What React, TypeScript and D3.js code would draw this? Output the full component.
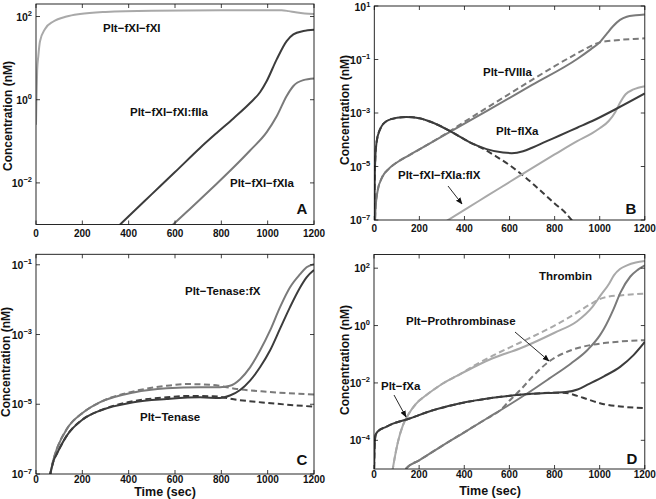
import React from "react";
import * as d3 from "d3";

// ---------- shared ----------
const TIME_TICKS = [0, 200, 400, 600, 800, 1000, 1200];
const TIME_DOMAIN = [0, 1200];

// ---------- Panel A (log10 of concentration, nM) ----------
const A_FXI_T = [0, 2, 5, 10, 17, 39, 75, 132, 190, 300, 500, 800, 1060, 1090, 1120, 1160, 1200];
const A_FXI_LOG = [-0.6, 0.0, 0.7, 1.05, 1.4, 1.7, 1.88, 2.0, 2.06, 2.11, 2.14, 2.15, 2.15, 2.13, 2.1, 2.07, 2.06];
const A_FIIA_T = [350, 400, 500, 600, 708, 780, 852, 924, 967, 996, 1039, 1082, 1111, 1154, 1200];
const A_FIIA_LOG = [-3.07, -2.8, -2.27, -1.74, -1.16, -0.8, -0.45, -0.08, 0.18, 0.45, 0.97, 1.41, 1.57, 1.65, 1.68];
const A_FXIA_T = [580, 650, 708, 780, 852, 924, 996, 1039, 1082, 1111, 1154, 1200];
const A_FXIA_LOG = [-3.06, -2.7, -2.4, -2.02, -1.63, -1.22, -0.78, -0.4, 0.09, 0.33, 0.47, 0.51];

// ---------- Panel B ----------
const B_FVIIIA_T = [2, 6, 15, 35, 65, 100, 150, 200, 320, 500, 700, 900, 960, 1000, 1030, 1060, 1090, 1120, 1160, 1200];
const B_FVIIIA_LOG = [-7.3, -6.5, -5.9, -5.4, -5.08, -4.85, -4.6, -4.36, -3.78, -2.92, -1.95, -0.98, -0.62, -0.36, -0.05, 0.25, 0.48, 0.6, 0.65, 0.68];
const B_FVIIIA_D_T = [2, 6, 15, 35, 65, 100, 150, 200, 320, 400, 500, 600, 700, 800, 900, 960, 1000, 1050, 1100, 1150, 1200];
const B_FVIIIA_D_LOG = [-7.3, -6.5, -5.9, -5.4, -5.08, -4.85, -4.6, -4.36, -3.76, -3.33, -2.8, -2.28, -1.76, -1.25, -0.77, -0.5, -0.36, -0.3, -0.26, -0.23, -0.21];
const B_FIXA_T = [0, 2, 5, 10, 25, 55, 100, 143, 200, 276, 350, 424, 498, 571, 610, 660, 700, 760, 820, 900, 967, 1070, 1200];
const B_FIXA_LOG = [-7.3, -5.5, -4.6, -4.1, -3.62, -3.3, -3.18, -3.15, -3.2, -3.42, -3.74, -4.1, -4.35, -4.48, -4.5, -4.43, -4.3, -4.07, -3.85, -3.55, -3.3, -2.86, -2.27];
const B_FIXA_D_T = [0, 2, 5, 10, 25, 55, 100, 143, 200, 276, 350, 424, 482, 540, 600, 650, 700, 750, 800, 850, 880];
const B_FIXA_D_LOG = [-7.3, -5.5, -4.6, -4.1, -3.62, -3.3, -3.18, -3.15, -3.2, -3.42, -3.74, -4.1, -4.33, -4.62, -4.95, -5.27, -5.62, -6.0, -6.38, -6.75, -7.05];
const B_FIX_T = [318, 400, 500, 600, 700, 800, 900, 967, 1000, 1040, 1070, 1090, 1115, 1150, 1200];
const B_FIX_LOG = [-7.05, -6.62, -6.1, -5.58, -5.06, -4.55, -4.05, -3.75, -3.57, -3.3, -2.95, -2.62, -2.3, -2.12, -2.0];

// ---------- Panel C ----------
const C_T = [60, 76, 90, 133, 205, 277, 421, 564, 708, 794, 837, 881, 924, 967, 1010, 1053, 1096, 1140, 1168, 1200];
const C_TFX_LOG = [-7.05, -6.57, -6.28, -5.71, -5.23, -4.94, -4.66, -4.54, -4.51, -4.51, -4.47, -4.28, -3.94, -3.46, -2.89, -2.22, -1.65, -1.27, -1.07, -0.98];
const C_TEN_LOG = [-7.05, -6.62, -6.42, -5.9, -5.42, -5.18, -4.94, -4.85, -4.8, -4.82, -4.75, -4.59, -4.32, -3.94, -3.46, -2.84, -2.22, -1.65, -1.36, -1.15];
const C_D_T = [60, 76, 90, 133, 205, 277, 421, 564, 650, 765, 866, 996, 1200];
const C_TFX_D_LOG = [-7.05, -6.57, -6.28, -5.71, -5.23, -4.94, -4.63, -4.47, -4.42, -4.45, -4.56, -4.64, -4.72];
const C_TEN_D_LOG = [-7.05, -6.62, -6.42, -5.9, -5.42, -5.18, -4.91, -4.8, -4.76, -4.77, -4.87, -4.96, -5.07];

// ---------- Panel D ----------
const D_THR_T = [81, 91, 106, 128, 150, 187, 231, 305, 378, 452, 526, 646, 800, 900, 968, 1004, 1041, 1063, 1090, 1121, 1160, 1200];
const D_THR_LOG = [-5.1, -4.64, -4.06, -3.48, -3.13, -2.72, -2.43, -2.02, -1.71, -1.41, -1.14, -0.8, -0.25, 0.15, 0.65, 1.05, 1.45, 1.75, 1.97, 2.1, 2.2, 2.25];
const D_THR_D_T = [81, 91, 106, 128, 150, 187, 231, 305, 378, 452, 526, 646, 800, 900, 960, 1000, 1034, 1100, 1200];
const D_THR_D_LOG = [-5.1, -4.64, -4.06, -3.48, -3.13, -2.72, -2.43, -2.02, -1.71, -1.36, -1.05, -0.6, 0.0, 0.45, 0.75, 0.92, 1.0, 1.06, 1.11];
const D_PRO_T = [130, 143, 200, 300, 400, 500, 600, 680, 776, 873, 946, 1000, 1019, 1063, 1092, 1136, 1170, 1200];
const D_PRO_LOG = [-5.3, -4.98, -4.7, -4.2, -3.72, -3.24, -2.76, -2.36, -1.85, -1.32, -0.85, -0.35, -0.11, 0.6, 1.15, 1.71, 1.95, 2.1];
const D_PRO_D_T = [130, 143, 200, 300, 400, 500, 560, 600, 654, 700, 776, 873, 953, 1019, 1100, 1200];
const D_PRO_D_LOG = [-5.3, -4.98, -4.7, -4.2, -3.72, -3.24, -2.95, -2.62, -2.2, -1.8, -1.25, -0.86, -0.69, -0.61, -0.55, -0.51];
const D_FXA_T = [0, 3, 7, 18, 54, 84, 158, 231, 378, 526, 646, 700, 800, 850, 902, 946, 1019, 1092, 1150, 1200];
const D_FXA_LOG = [-5.3, -4.17, -3.82, -3.68, -3.53, -3.42, -3.24, -3.03, -2.72, -2.52, -2.41, -2.38, -2.34, -2.32, -2.23, -2.06, -1.77, -1.43, -1.03, -0.57];
const D_FXA_D_T = [0, 3, 7, 18, 54, 84, 158, 231, 378, 526, 646, 700, 800, 850, 900, 946, 1019, 1092, 1150, 1200];
const D_FXA_D_LOG = [-5.3, -4.17, -3.82, -3.68, -3.53, -3.42, -3.24, -3.03, -2.72, -2.52, -2.41, -2.38, -2.34, -2.35, -2.45, -2.57, -2.74, -2.82, -2.86, -2.88];

// ---------- styling ----------
const LIGHT = "#a9a9a9";
const MED = "#7a7a7a";
const DARK = "#3c3c3c";
const FONT = "'Liberation Sans', Arial, Helvetica, sans-serif";

type Series = { t: number[]; v: number[]; color: string; dashed?: boolean };
type Label = { text: string; x: number; y: number };
type Arrow = { x1: number; y1: number; x2: number; y2: number };
type PanelDef = {
  id: string;
  x0: number; x1: number; y0: number; y1: number;
  ymin: number; ymax: number;
  yExps: number[];
  series: Series[];
  labels: Label[];
  arrows: Arrow[];
  letter: { x: number; y: number };
  ylab: { x: number; y: number };
  xTickY: number;
  xlab?: { x: number; y: number };
};

const S = (t: number[], v: number[], color: string, dashed = false): Series => ({ t, v, color, dashed });

const PANELS: PanelDef[] = [
  {
    id: "A", x0: 36, x1: 314, y0: 4, y1: 224.5, ymin: 1e-3, ymax: 200, yExps: [2, 0, -2],
    series: [
      S(A_FXI_T, A_FXI_LOG, LIGHT),
      S(A_FIIA_T, A_FIIA_LOG, DARK),
      S(A_FXIA_T, A_FXIA_LOG, MED),
    ],
    labels: [
      { text: "Plt\u2212fXI\u2212fXI", x: 103, y: 32 },
      { text: "Plt\u2212fXI\u2212fXI:fIIa", x: 130, y: 116 },
      { text: "Plt\u2212fXI\u2212fXIa", x: 230, y: 187 },
    ],
    arrows: [],
    letter: { x: 296.5, y: 214 },
    ylab: { x: 12, y: 116 },
    xTickY: 237,
  },
  {
    id: "B", x0: 374.3, x1: 644.8, y0: 6, y1: 220, ymin: 1e-7, ymax: 10, yExps: [1, -1, -3, -5, -7],
    series: [
      S(B_FVIIIA_D_T, B_FVIIIA_D_LOG, MED, true),
      S(B_FIXA_D_T, B_FIXA_D_LOG, DARK, true),
      S(B_FVIIIA_T, B_FVIIIA_LOG, MED),
      S(B_FIX_T, B_FIX_LOG, LIGHT),
      S(B_FIXA_T, B_FIXA_LOG, DARK),
    ],
    labels: [
      { text: "Plt\u2212fVIIIa", x: 483, y: 76 },
      { text: "Plt\u2212fIXa", x: 496, y: 135 },
      { text: "Plt\u2212fXI\u2212fXIa:fIX", x: 398, y: 179 },
    ],
    arrows: [{ x1: 448, y1: 186, x2: 462, y2: 204 }],
    letter: { x: 625.5, y: 214 },
    ylab: { x: 349, y: 110 },
    xTickY: 231.5,
  },
  {
    id: "C", x0: 36, x1: 314, y0: 254.3, y1: 474, ymin: 1e-7, ymax: 0.2, yExps: [-1, -3, -5, -7],
    series: [
      S(C_D_T, C_TFX_D_LOG, MED, true),
      S(C_D_T, C_TEN_D_LOG, DARK, true),
      S(C_T, C_TFX_LOG, MED),
      S(C_T, C_TEN_LOG, DARK),
    ],
    labels: [
      { text: "Plt\u2212Tenase:fX", x: 185, y: 295 },
      { text: "Plt\u2212Tenase", x: 140, y: 421 },
    ],
    arrows: [],
    letter: { x: 296.5, y: 465 },
    ylab: { x: 10, y: 362 },
    xTickY: 483,
    xlab: { x: 165, y: 495.5 },
  },
  {
    id: "D", x0: 374, x1: 644.8, y0: 254.5, y1: 469, ymin: 1e-5, ymax: 300, yExps: [2, 0, -2, -4],
    series: [
      S(D_THR_D_T, D_THR_D_LOG, LIGHT, true),
      S(D_PRO_D_T, D_PRO_D_LOG, MED, true),
      S(D_FXA_D_T, D_FXA_D_LOG, DARK, true),
      S(D_THR_T, D_THR_LOG, LIGHT),
      S(D_PRO_T, D_PRO_LOG, MED),
      S(D_FXA_T, D_FXA_LOG, DARK),
    ],
    labels: [
      { text: "Thrombin", x: 539, y: 280 },
      { text: "Plt\u2212Prothrombinase", x: 406, y: 325 },
      { text: "Plt\u2212fXa", x: 381, y: 390 },
    ],
    arrows: [
      { x1: 515, y1: 332, x2: 549, y2: 361 },
      { x1: 394, y1: 395, x2: 406, y2: 417 },
    ],
    letter: { x: 626.5, y: 464 },
    ylab: { x: 349, y: 360 },
    xTickY: 478,
    xlab: { x: 490, y: 495 },
  },
];

const TICK = 4;

function Panel({ p }: { p: PanelDef }) {
  const x = d3.scaleLinear().domain(TIME_DOMAIN).range([p.x0, p.x1]);
  const y = d3.scaleLog().domain([p.ymin, p.ymax]).range([p.y1, p.y0]);
  const line = d3
    .line<[number, number]>()
    .x((d) => x(d[0]))
    .y((d) => y(d[1]))
    .curve(d3.curveMonotoneX);
  const clipId = `clip-${p.id}`;
  return (
    <g>
      <defs>
        <clipPath id={clipId}>
          <rect x={p.x0} y={p.y0} width={p.x1 - p.x0} height={p.y1 - p.y0} />
        </clipPath>
      </defs>
      <g clipPath={`url(#${clipId})`}>
        {p.series.map((s, i) => {
          const pts: [number, number][] = s.t.map((t, k) => [t, Math.pow(10, s.v[k])]);
          return (
            <path
              key={i}
              d={line(pts) || ""}
              fill="none"
              stroke={s.color}
              strokeWidth={2}
              strokeDasharray={s.dashed ? "6,3.5" : undefined}
              strokeLinejoin="round"
            />
          );
        })}
      </g>
      {/* frame */}
      <rect x={p.x0} y={p.y0} width={p.x1 - p.x0} height={p.y1 - p.y0} fill="none" stroke="#111" strokeWidth={0.9} />
      {/* x ticks */}
      {TIME_TICKS.map((t) => (
        <g key={`xt${t}`}>
          <line x1={x(t)} x2={x(t)} y1={p.y1} y2={p.y1 - TICK} stroke="#111" strokeWidth={0.8} />
          <line x1={x(t)} x2={x(t)} y1={p.y0} y2={p.y0 + TICK} stroke="#111" strokeWidth={0.8} />
          <text x={x(t)} y={p.xTickY} textAnchor="middle" fontSize={10} fontWeight="bold" fontFamily={FONT} fill="#111">
            {t}
          </text>
        </g>
      ))}
      {/* y ticks */}
      {p.yExps.map((e) => {
        const yy = y(Math.pow(10, e));
        return (
          <g key={`yt${e}`}>
            <line x1={p.x0} x2={p.x0 + TICK} y1={yy} y2={yy} stroke="#111" strokeWidth={0.8} />
            <line x1={p.x1} x2={p.x1 - TICK} y1={yy} y2={yy} stroke="#111" strokeWidth={0.8} />
            <text x={p.x0 - 4} y={Math.max(yy + 4, 11)} textAnchor="end" fontSize={10.5} fontWeight="bold" fontFamily={FONT} fill="#111">
              10
              <tspan dy={-4.5} fontSize={7.5}>
                {e < 0 ? `\u2212${-e}` : `${e}`}
              </tspan>
            </text>
          </g>
        );
      })}
      {/* series labels */}
      {p.labels.map((l, i) => (
        <text key={`l${i}`} x={l.x} y={l.y} fontSize={11.5} fontWeight="bold" fontFamily={FONT} fill="#111">
          {l.text}
        </text>
      ))}
      {p.arrows.map((a, i) => (
        <line key={`a${i}`} x1={a.x1} y1={a.y1} x2={a.x2} y2={a.y2} stroke="#111" strokeWidth={0.9} markerEnd="url(#arrowhead)" />
      ))}
      <text x={p.letter.x} y={p.letter.y} fontSize={15} fontWeight="bold" fontFamily={FONT} fill="#111">
        {p.id}
      </text>
      <text
        transform={`translate(${p.ylab.x},${p.ylab.y}) rotate(-90)`}
        textAnchor="middle"
        fontSize={12}
        fontWeight="bold"
        fontFamily={FONT}
        fill="#111"
      >
        Concentration (nM)
      </text>
      {p.xlab && (
        <text x={p.xlab.x} y={p.xlab.y} textAnchor="middle" fontSize={12.5} fontWeight="bold" fontFamily={FONT} fill="#111">
          Time (sec)
        </text>
      )}
    </g>
  );
}

export default function App() {
  return (
    <svg
      width={656}
      height={499}
      viewBox="0 0 656 499"
      style={{ position: "absolute", left: 0, top: 0, background: "#fff" }}
    >
      <defs>
        <marker id="arrowhead" viewBox="0 0 10 10" refX={9} refY={5} markerWidth={7} markerHeight={7} orient="auto" markerUnits="userSpaceOnUse">
          <path d="M0,1 L10,5 L0,9 Z" fill="#111" />
        </marker>
      </defs>
      <rect x={0} y={0} width={656} height={499} fill="#fff" />
      {PANELS.map((p) => (
        <Panel key={p.id} p={p} />
      ))}
    </svg>
  );
}
